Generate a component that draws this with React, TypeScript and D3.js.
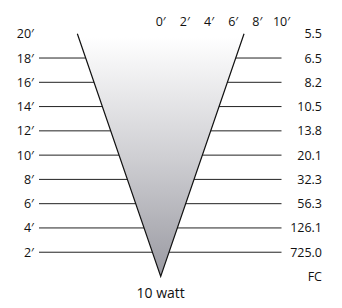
import React from "react";
import * as d3 from "d3";

const distances = [20, 18, 16, 14, 12, 10, 8, 6, 4, 2];
const distanceLabels = ["20′", "18′", "16′", "14′", "12′", "10′", "8′", "6′", "4′", "2′"];
const footcandles = ["5.5", "6.5", "8.2", "10.5", "13.8", "20.1", "32.3", "56.3", "126.1", "725.0"];
const spreadTicks = [0, 2, 4, 6, 8, 10];
const spreadLabels = ["0′", "2′", "4′", "6′", "8′", "10′"];
const beamHalfSpreadAt20 = 6.9;
const wattLabel = "10 watt";
const unitLabel = "FC";

const W = 342;
const H = 308;
const FONT = "'Open Sans', sans-serif";

export default function App() {
  const y = d3.scaleLinear().domain([0, 20]).range([276.5, 33.75]);
  const x = d3.scaleLinear().domain([0, 10]).range([160.7, 281.5]);
  const apexX = x(0);
  const leftEdge = (d: number) => apexX - (x(beamHalfSpreadAt20 * d / 20) - apexX);
  const rightEdge = (d: number) => x(beamHalfSpreadAt20 * d / 20);

  const cone = d3.line<[number, number]>()([
    [leftEdge(20), y(20)],
    [apexX, y(0)],
    [rightEdge(20), y(20)],
  ]);
  const conePoly = d3.line<[number, number]>()([
    [leftEdge(19.75), y(19.75)],
    [apexX, y(0)],
    [rightEdge(19.75), y(19.75)],
  ]) + "Z";

  return (
    <svg width={W} height={H} style={{ position: "absolute", left: 0, top: 0 }}>
      <defs>
        <linearGradient id="coneGrad" x1="0" y1="0" x2="0" y2="1">
          <stop offset="0" stopColor="#ffffff" />
          <stop offset="0.5" stopColor="#cfcfd3" />
          <stop offset="1" stopColor="#9a9aa2" />
        </linearGradient>
      </defs>
      <path d={conePoly} fill="url(#coneGrad)" />
      {distances.map((d) =>
        d === 20 ? null : (
          <g key={d}>
            <line x1={39} x2={leftEdge(d)} y1={y(d)} y2={y(d)} stroke="#222" strokeWidth={1} />
            <line x1={rightEdge(d)} x2={281.5} y1={y(d)} y2={y(d)} stroke="#222" strokeWidth={1} />
          </g>
        )
      )}
      <path d={cone!} fill="none" stroke="#111" strokeWidth={1.2} />
      {distances.map((d, i) => (
        <g key={"t" + d} fontFamily={FONT} fontSize={12.5} fill="#111">
          <text x={34} y={y(d)} dy="0.36em" textAnchor="end">{distanceLabels[i]}</text>
          <text x={322} y={y(d)} dy="0.36em" textAnchor="end">{footcandles[i]}</text>
        </g>
      ))}
      {spreadTicks.map((s, i) => (
        <text key={"s" + s} x={x(s)} y={26} textAnchor="middle" fontFamily={FONT} fontSize={12.5} fill="#111">
          {spreadLabels[i]}
        </text>
      ))}
      <text x={322} y={y(0)} dy="0.36em" textAnchor="end" fontFamily={FONT} fontSize={12.5} fill="#111">{unitLabel}</text>
      <text x={apexX} y={297.5} textAnchor="middle" fontFamily={FONT} fontSize={14} fill="#111">{wattLabel}</text>
    </svg>
  );
}
